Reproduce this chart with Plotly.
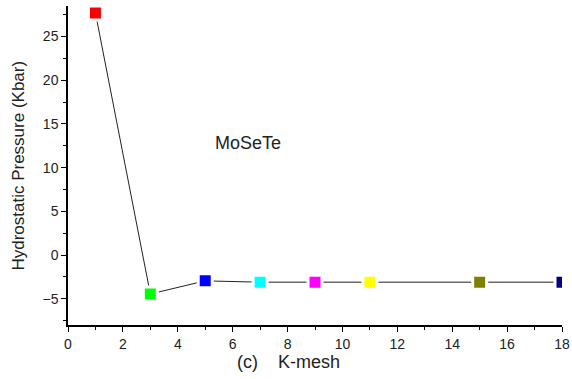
import plotly.graph_objects as go

kmesh = [1, 3, 5, 7, 9, 11, 15, 18]
pressure = [27.7, -4.45, -2.95, -3.1, -3.1, -3.1, -3.1, -3.1]
colors = ["#ff0000", "#00ff00", "#0000ff", "#00ffff", "#ff00ff", "#ffff00", "#808000", "#000080"]

fig = go.Figure()
fig.add_trace(go.Scatter(
    x=kmesh, y=pressure, mode="lines+markers",
    line=dict(color="#222222", width=1),
    marker=dict(symbol="square", size=14, color=colors,
                line=dict(color="white", width=3)),
    showlegend=False, cliponaxis=True,
))

font = dict(family="Arial, Liberation Sans, sans-serif", size=14, color="#222222")
fig.update_layout(
    width=572, height=379,
    margin=dict(l=68, r=10, t=6, b=54, autoexpand=False),
    paper_bgcolor="white", plot_bgcolor="white",
    font=font,
    xaxis=dict(range=[0, 18], tickvals=list(range(0, 19, 2)), showgrid=False, zeroline=False,
               showline=True, linecolor="black", linewidth=1.5, automargin=False,
               ticks="outside", ticklen=5, tickwidth=1, tickcolor="black",
               minor=dict(dtick=1, ticks="outside", ticklen=3, tickcolor="black"),
               tickfont=dict(size=14)),
    yaxis=dict(range=[-8, 28.5], tickvals=[-5, 0, 5, 10, 15, 20, 25], showgrid=False, zeroline=False,
               showline=True, linecolor="black", linewidth=1.5, automargin=False,
               ticks="outside", ticklen=5, tickwidth=1, tickcolor="black",
               minor=dict(dtick=2.5, ticks="outside", ticklen=3, tickcolor="black"),
               tickfont=dict(size=14)),
    annotations=[
        dict(x=6.56, y=12.8, xref="x", yref="y", text="MoSeTe", showarrow=False,
             font=dict(size=18, color="#222222")),
        dict(x=0.446, y=-0.116, xref="paper", yref="paper", text="(c)    K-mesh", showarrow=False,
             xanchor="center", yanchor="middle", font=dict(size=18, color="#222222")),
        dict(x=-0.101, y=0.5, xref="paper", yref="paper", text="Hydrostatic Pressure (Kbar)",
             showarrow=False, textangle=-90, xanchor="center", yanchor="middle",
             font=dict(size=17, color="#222222")),
    ],
)

fig.write_html("out.html")
